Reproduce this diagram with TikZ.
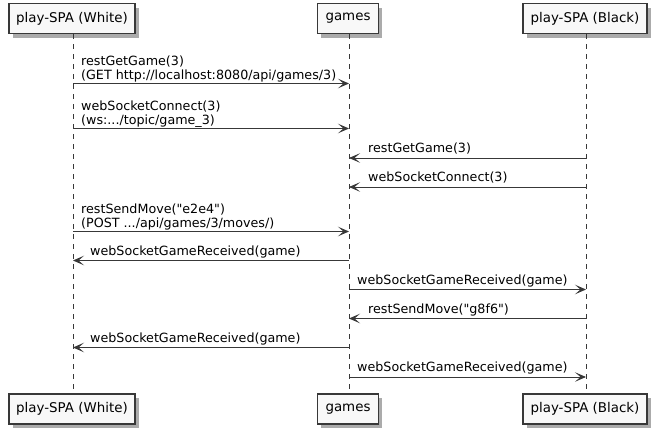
\documentclass[tikz,border=0pt]{standalone}
\usepackage{fontspec}
\setmainfont{DejaVu Sans}[Ligatures=TeXOff]
\usetikzlibrary{arrows.meta,shadows}
\definecolor{ln}{HTML}{383838}
\definecolor{bx}{HTML}{F8F8F8}
\begin{document}
\begin{tikzpicture}[x=1pt,y=-1pt,
 part/.style={draw=ln, line width=1.4pt, fill=bx, minimum height=30pt, inner sep=0pt,
   font=\fontsize{13.4}{15}\selectfont,
   drop shadow={shadow xshift=3.5pt,shadow yshift=-4pt,fill=black!55,opacity=0.6}},
 life/.style={draw=ln, line width=0.6pt, dash pattern=on 5pt off 5pt},
 msg/.style={draw=ln, line width=0.9pt, -{Stealth[length=11pt,width=9.5pt,inset=5.5pt]}},
 lbl/.style={anchor=base west, inner sep=0pt, font=\fontsize{12.7}{14}\selectfont}
]
\useasboundingbox (0,0) rectangle (656,434);

% participants
\node[part, minimum width=126pt] (wt) at (72,18.5) {play-SPA (White)};
\node[part, minimum width=61pt]  (gt) at (348,18.5) {games};
\node[part, minimum width=124pt] (bt) at (585,18.5) {play-SPA (Black)};
\node[part, minimum width=126pt] (wb) at (72,409) {play-SPA (White)};
\node[part, minimum width=61pt]  (gb) at (348,409) {games};
\node[part, minimum width=124pt] (bb) at (585,409) {play-SPA (Black)};

% lifelines
\coordinate (wx) at (73,0);
\coordinate (gx) at (349,0);
\coordinate (bx) at (586,0);
\draw[life] (wx |- wt.south) -- (wx |- wb.north);
\draw[life] (gx |- gt.south) -- (gx |- gb.north);
\draw[life] (bx |- bt.south) -- (bx |- bb.north);

% message rows
\coordinate (r1) at (0,83.5);
\coordinate (r2) at (0,128.5);
\coordinate (r3) at (0,158);
\coordinate (r4) at (0,187);
\coordinate (r5) at (0,231.5);
\coordinate (r6) at (0,260.5);
\coordinate (r7) at (0,289.5);
\coordinate (r8) at (0,318.5);
\coordinate (r9) at (0,347.5);
\coordinate (r10) at (0,377);

% 1
\draw[msg] (wx |- r1) -- (gx |- r1);
\node[lbl] (l1a) at (81,65) {restGetGame(3)};
\node[lbl] (l1b) at (81,79) {(GET http://localhost:8080/api/games/3)};
% 2
\draw[msg] (wx |- r2) -- (gx |- r2);
\node[lbl] (l2a) at (81,110) {webSocketConnect(3)};
\node[lbl] (l2b) at (81,124) {(ws:.../topic/game\_3)};
% 3
\draw[msg] (bx |- r3) -- (gx |- r3);
\node[lbl] (l3) at (368,152.5) {restGetGame(3)};
% 4
\draw[msg] (bx |- r4) -- (gx |- r4);
\node[lbl] (l4) at (368,181.5) {webSocketConnect(3)};
% 5
\draw[msg] (wx |- r5) -- (gx |- r5);
\node[lbl] (l5a) at (81,213) {restSendMove("e2e4")};
\node[lbl] (l5b) at (81,227) {(POST .../api/games/3/moves/)};
% 6
\draw[msg] (gx |- r6) -- (wx |- r6);
\node[lbl] (l6) at (90,255) {webSocketGameReceived(game)};
% 7
\draw[msg] (gx |- r7) -- (bx |- r7);
\node[lbl] (l7) at (357,284) {webSocketGameReceived(game)};
% 8
\draw[msg] (bx |- r8) -- (gx |- r8);
\node[lbl] (l8) at (368,313) {restSendMove("g8f6")};
% 9
\draw[msg] (gx |- r9) -- (wx |- r9);
\node[lbl] (l9) at (90,342) {webSocketGameReceived(game)};
% 10
\draw[msg] (gx |- r10) -- (bx |- r10);
\node[lbl] (l10) at (357,371.5) {webSocketGameReceived(game)};
\end{tikzpicture}
\end{document}
